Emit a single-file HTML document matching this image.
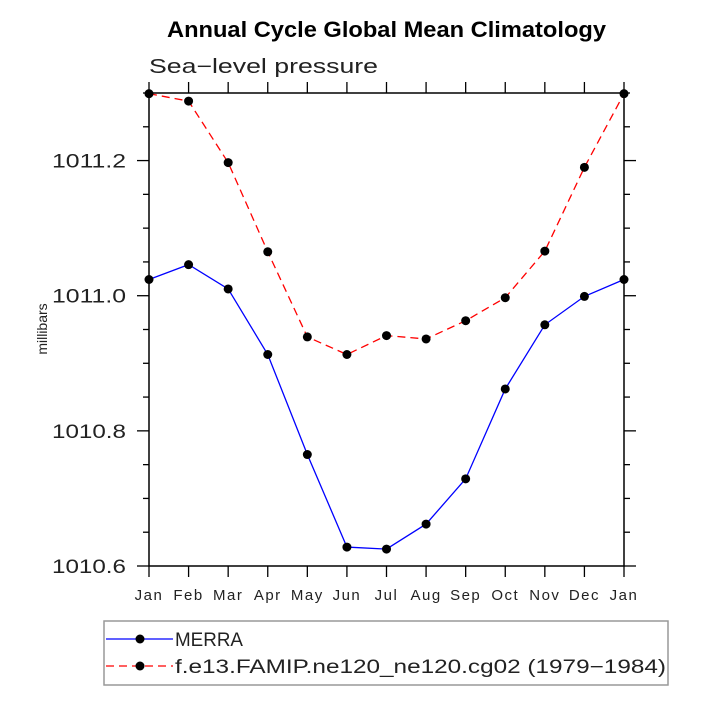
<!DOCTYPE html>
<html><head><meta charset="utf-8"><style>
body{margin:0;background:#fff;}
text{font-family:"Liberation Sans",sans-serif;}
</style></head><body>
<svg width="703" height="703" xmlns="http://www.w3.org/2000/svg">
<text x="167" y="37" textLength="439" lengthAdjust="spacingAndGlyphs" font-size="22" font-weight="bold" fill="#000">Annual Cycle Global Mean Climatology</text>
<text x="149" y="73" textLength="229" lengthAdjust="spacingAndGlyphs" font-size="20" fill="#222">Sea−level pressure</text>
<text transform="translate(47,329) rotate(-90)" text-anchor="middle" font-size="14" fill="#222">millibars</text>
<g id="axes"></g>
<g id="series"></g>
<rect x="104" y="621" width="564" height="64" fill="none" stroke="#999" stroke-width="1.5"/>
<line x1="106" y1="639" x2="173" y2="639" stroke="#00f" stroke-width="1.3"/>
<circle cx="140" cy="639" r="4.5" fill="#000"/>
<text x="175" y="646" textLength="68" lengthAdjust="spacingAndGlyphs" font-size="19" fill="#222">MERRA</text>
<line x1="106" y1="666" x2="173" y2="666" stroke="#f00" stroke-width="1.3" stroke-dasharray="8,5"/>
<circle cx="140" cy="666" r="4.5" fill="#000"/>
<text x="175" y="673" textLength="491" lengthAdjust="spacingAndGlyphs" font-size="19" fill="#222">f.e13.FAMIP.ne120_ne120.cg02 (1979−1984)</text>
</svg>
<script>
const months=["Jan","Feb","Mar","Apr","May","Jun","Jul","Aug","Sep","Oct","Nov","Dec","Jan"];
const merra=[1011.024,1011.046,1011.010,1010.913,1010.765,1010.628,1010.625,1010.662,1010.729,1010.862,1010.957,1010.999,1011.024];
const model=[1011.299,1011.288,1011.197,1011.065,1010.939,1010.913,1010.941,1010.936,1010.963,1010.997,1011.066,1011.190,1011.299];
const yTicks=[1010.6,1010.8,1011.0,1011.2];
const yTickLabels=["1010.6","1010.8","1011.0","1011.2"];
const X0=149,X1=624,Y0=566,Y1=93,YMIN=1010.6,YMAX=1011.3;
const NS="http://www.w3.org/2000/svg";
function xs(i){return X0+i*(X1-X0)/(months.length-1);}
function ys(v){return Y0-(v-YMIN)/(YMAX-YMIN)*(Y0-Y1);}
function mk(tag,a,parent){const e=document.createElementNS(NS,tag);for(const k in a)e.setAttribute(k,a[k]);parent.appendChild(e);return e;}
const ax=document.getElementById('axes'),sg=document.getElementById('series');
let fr=mk('rect',{x:X0,y:Y1,width:X1-X0,height:Y0-Y1,fill:'none',stroke:'#000','stroke-width':1.5},ax);


months.forEach((m,i)=>{
  let t=mk('line',{x1:xs(i),x2:xs(i),y1:Y0,y2:Y0+11,stroke:'#000','stroke-width':1.3},ax);
  
  
  let t2=mk('line',{x1:xs(i),x2:xs(i),y1:Y1,y2:Y1-11,stroke:'#000','stroke-width':1.3},ax);
  
  
  let l=mk('text',{x:xs(i),y:Y0+34,'text-anchor':'middle','font-size':15,fill:'#222','letter-spacing':1.5},ax);
  l.textContent=m;
  
  
});
for(let k=0;k<=14;k++){
  const v=YMIN+k*0.05,major=(k%4===0),len=major?12:6;
  let a=mk('line',{x1:X0-len,x2:X0,y1:ys(v),y2:ys(v),stroke:'#000','stroke-width':1.3},ax);
  
  
  let b=mk('line',{x1:X1,x2:X1+len,y1:ys(v),y2:ys(v),stroke:'#000','stroke-width':1.3},ax);
  
  
}
yTicks.forEach((v,i)=>{
  let l=mk('text',{x:52,y:ys(v)+7,textLength:74,lengthAdjust:'spacingAndGlyphs','font-size':19,fill:'#222'},ax);
  l.textContent=yTickLabels[i];
  
  
});
function draw(data,color,dash,name){
  const pts=data.map((v,i)=>xs(i)+','+ys(v)).join(' ');
  let p=mk('polyline',{points:pts,fill:'none',stroke:color,'stroke-width':1.3},sg);
  if(dash)p.setAttribute('stroke-dasharray',dash);
  
  
  data.forEach((v,i)=>{
    let c=mk('circle',{cx:xs(i),cy:ys(v),r:4.5,fill:'#000'},sg);
    
    
  });
}
draw(merra,'#00f',null,'merra');
draw(model,'#f00','8,5','model');
</script>
</body></html>
